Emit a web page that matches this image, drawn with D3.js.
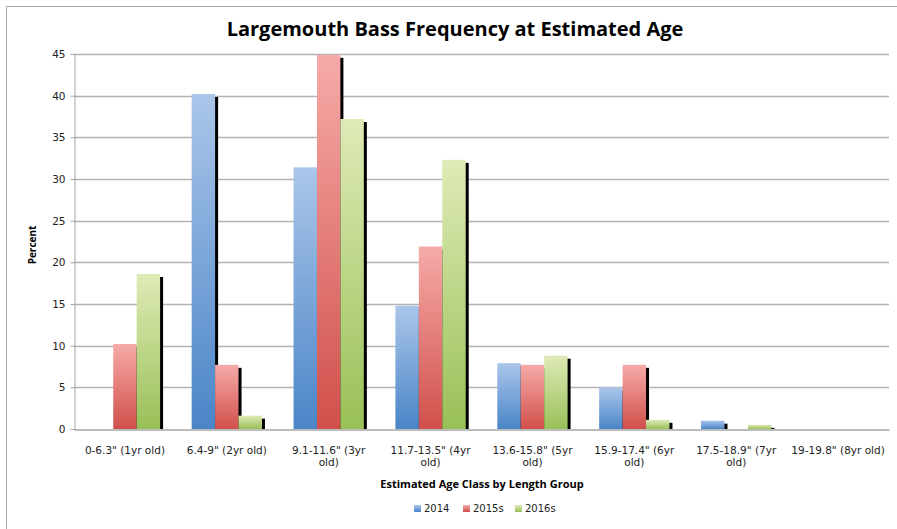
<!DOCTYPE html>
<html>
<head>
<meta charset="utf-8">
<script src="https://cdn.jsdelivr.net/npm/d3@7"></script>
<style>
  html, body { margin: 0; padding: 0; background: #fff; }
  svg { display: block; }
</style>
</head>
<body>
<svg id="chart" width="897" height="529"></svg>
<script>
const categories = [
  '0-6.3" (1yr old)', '6.4-9" (2yr old)', '9.1-11.6" (3yr old)', '11.7-13.5" (4yr old)',
  '13.6-15.8" (5yr old)', '15.9-17.4" (6yr old)', '17.5-18.9" (7yr old)', '19-19.8" (8yr old)'
];
const seriesNames = ["2014", "2015s", "2016s"];
const values2014  = [0, 40.2, 31.4, 14.8, 7.9, 5.0, 1.0, 0];
const values2015s = [10.2, 7.7, 44.9, 21.9, 7.7, 7.7, 0, 0];
const values2016s = [18.6, 1.6, 37.2, 32.3, 8.8, 1.1, 0.5, 0];
const yTicks = [0, 5, 10, 15, 20, 25, 30, 35, 40, 45];
const titleText = "Largemouth Bass Frequency at Estimated Age";
const xTitle = "Estimated Age Class by Length Group";
const yTitle = "Percent";

const seriesValues = [values2014, values2015s, values2016s];
const gradStops = [
  ["#abc6e9", "#4a85c8"],
  ["#f6aba8", "#d14f4b"],
  ["#dfebb7", "#99c057"]
];

const svg = d3.select("#chart");
const margin = { left: 74, right: 889, top: 54, bottom: 429 };

// outer border
svg.append("path")
  .attr("d", "M6.5,900 L6.5,6.5 L900,6.5")
  .attr("fill", "none").attr("stroke", "#a6a6a6").attr("stroke-width", 1);

const defs = svg.append("defs");
seriesNames.forEach((s, i) => {
  const g = defs.append("linearGradient").attr("id", "grad" + i)
    .attr("x1", 0).attr("y1", 0).attr("x2", 0).attr("y2", 1);
  g.append("stop").attr("offset", "0%").attr("stop-color", gradStops[i][0]);
  g.append("stop").attr("offset", "100%").attr("stop-color", gradStops[i][1]);
});

const x = d3.scaleBand().domain(categories).range([margin.left, margin.right]).paddingInner(0).paddingOuter(0);
const y = d3.scaleLinear().domain([0, 45]).range([margin.bottom, margin.top]);
const groupWidth = x.bandwidth() * 0.69;
const x1 = d3.scaleBand().domain(seriesNames).range([0, groupWidth]);

// gridlines
svg.append("g").selectAll("line").data(yTicks.filter(d => d > 0)).join("line")
  .attr("x1", margin.left).attr("x2", margin.right)
  .attr("y1", d => Math.round(y(d)) + 0.5).attr("y2", d => Math.round(y(d)) + 0.5)
  .attr("stroke", "#b3b3b3").attr("stroke-width", 1.3);

// y axis
const yAxis = svg.append("g").attr("transform", `translate(${margin.left + 0.5},0)`)
  .call(d3.axisLeft(y).tickValues(yTicks).tickSize(4).tickPadding(5));
yAxis.select(".domain").attr("stroke", "#a6a6a6");
yAxis.selectAll(".tick line").attr("stroke", "#a6a6a6");
yAxis.selectAll(".tick text").attr("font-family", "DejaVu Sans, Verdana, sans-serif")
  .attr("font-size", 10.5).attr("fill", "#222");

// bars
const groups = svg.append("g").selectAll("g").data(categories).join("g")
  .attr("transform", d => `translate(${x(d) + (x.bandwidth() - groupWidth) / 2},0)`);
groups.each(function(cat, ci) {
  const g = d3.select(this);
  seriesNames.forEach((s, si) => {
    const v = seriesValues[si][ci];
    if (!v) return;
    const bx = x1(s), by = y(v), bw = x1.bandwidth(), bh = y(0) - y(v);
    g.append("rect").attr("x", bx + 3).attr("y", by + 3)
      .attr("width", bw).attr("height", Math.max(0, bh - 3)).attr("fill", "#000");
    g.append("rect").attr("x", bx).attr("y", by)
      .attr("width", bw).attr("height", bh).attr("fill", `url(#grad${si})`);
  });
});

// x axis
const xAxis = svg.append("g").attr("transform", `translate(0,${margin.bottom + 0.5})`)
  .call(d3.axisBottom(x).tickSize(0).tickPadding(21));
xAxis.select(".domain").attr("stroke", "#a6a6a6").attr("stroke-width", 1.3);
xAxis.selectAll(".tick text").attr("font-family", "DejaVu Sans, Verdana, sans-serif")
  .attr("font-size", 10.5).attr("fill", "#222")
  .each(function(d, i) {
    const t = d3.select(this);
    const words = d.split(" ");
    t.text(null);
    // the last label may spill into the right margin, as in the original
    const maxW = i === categories.length - 1 ? 120 : 82;
    let line = [];
    let tspan = t.append("tspan").attr("x", 0).attr("dy", "0.32em");
    for (const w of words) {
      line.push(w);
      tspan.text(line.join(" "));
      if (tspan.node().getComputedTextLength() > maxW && line.length > 1) {
        line.pop();
        tspan.text(line.join(" "));
        line = [w];
        tspan = t.append("tspan").attr("x", 0).attr("dy", "1.2em").text(w);
      }
    }
  });

// title
svg.append("text").attr("x", 455).attr("y", 36).attr("text-anchor", "middle")
  .attr("font-family", "Open Sans, sans-serif").attr("font-weight", "bold")
  .attr("font-size", 20).attr("fill", "#000").text(titleText);

// x title
svg.append("text").attr("x", 482).attr("y", 488).attr("text-anchor", "middle")
  .attr("font-family", "Open Sans, sans-serif").attr("font-weight", "bold")
  .attr("font-size", 11).attr("fill", "#000").text(xTitle);

// y title
svg.append("text").attr("transform", "translate(36,245) rotate(-90)").attr("text-anchor", "middle")
  .attr("font-family", "Open Sans, sans-serif").attr("font-weight", "bold")
  .attr("font-size", 10).attr("fill", "#000").text(yTitle);

// legend
const legendX = [414, 463, 515];
const legend = svg.append("g").selectAll("g").data(seriesNames).join("g")
  .attr("transform", (d, i) => `translate(${legendX[i]},508)`);
legend.append("rect").attr("x", 0).attr("y", -3).attr("width", 7).attr("height", 7)
  .attr("fill", (d, i) => `url(#grad${i})`);
legend.append("text").attr("x", 10).attr("y", 0).attr("dy", "0.35em")
  .attr("font-family", "DejaVu Sans, Verdana, sans-serif").attr("font-size", 10)
  .attr("fill", "#222").text(d => d);
</script>
</body>
</html>
